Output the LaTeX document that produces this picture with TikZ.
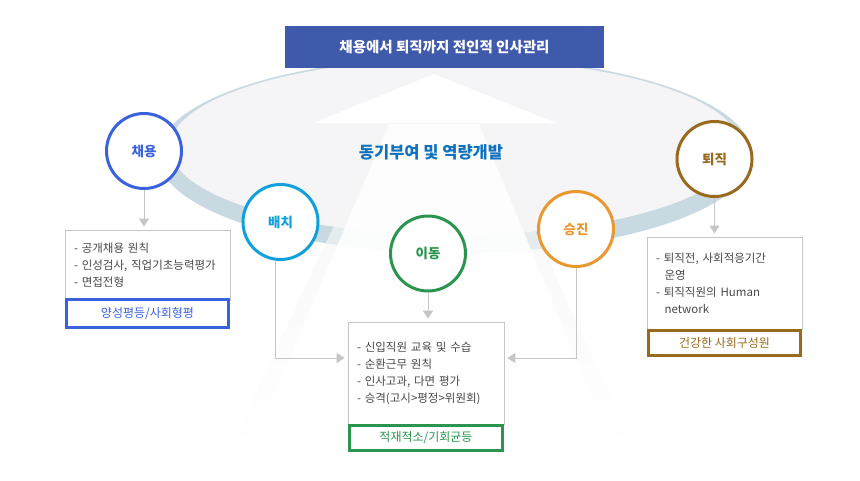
\documentclass[tikz,border=0pt]{standalone}
\usepackage{fontspec}
\setmainfont{Noto Sans CJK KR}
\usetikzlibrary{arrows.meta,fadings}
\definecolor{titleblue}{RGB}{63,90,170}
\definecolor{ringblue}{RGB}{201,217,225}
\definecolor{innergray}{RGB}{245,244,246}
\definecolor{motivblue}{RGB}{16,114,190}
\definecolor{hirecol}{RGB}{58,98,220}
\definecolor{placecol}{RGB}{18,160,219}
\definecolor{movecol}{RGB}{43,149,80}
\definecolor{promocol}{RGB}{233,152,48}
\definecolor{retirecol}{RGB}{153,106,30}
\definecolor{linegray}{RGB}{198,198,198}
\definecolor{textgray}{RGB}{72,72,72}
\begin{document}
\begin{tikzpicture}[x=1pt,y=-1pt,
  stage/.style={draw=#1,text=#1,circle,fill=white,line width=3pt,minimum size=75pt,inner sep=0pt,font=\fontsize{13.5}{16}\selectfont\bfseries},
  infobox/.style={draw=linegray,fill=white,line width=0.8pt,align=left,text=textgray,inner xsep=9pt,font=\fontsize{11.5}{17}\selectfont},
  tagbox/.style={draw=#1,text=#1,fill=white,line width=3pt,font=\fontsize{12}{15}\selectfont},
  conn/.style={draw=linegray,line width=1pt,shorten >=3pt,-{Triangle[width=10pt,length=8pt]}}]
\useasboundingbox (0,0) rectangle (860,480);

% ring and beam
\fill[ringblue] (455,155) ellipse [x radius=297pt,y radius=98pt];
\fill[innergray] (455,147) ellipse [x radius=285pt,y radius=88pt];
\fill[black!3.5,path fading=south] (382,124) -- (226,455) -- (638,455) -- (486,124) -- cycle;
\fill[white,opacity=.85] (389,124) -- (248,455) -- (616,455) -- (479,124) -- cycle;
\fill[white] (434,74) -- (556,123) -- (313,123) -- cycle;

\node[fill=titleblue,text=white,minimum width=319pt,minimum height=42pt,font=\fontsize{14.5}{17}\selectfont\bfseries] (title) at (444.5,47) {채용에서 퇴직까지 전인적 인사관리};
\node[text=motivblue,font=\fontsize{16.5}{19}\selectfont\bfseries] (motiv) at (431,152) {동기부여 및 역량개발};

% stages
\node[stage=hirecol] (hire) at (144,151) {채용};
\node[stage=placecol] (place) at (280.5,222) {배치};
\node[stage=movecol] (move) at (428,253.5) {이동};
\node[stage=promocol] (promo) at (576,229) {승진};
\node[stage=retirecol] (retire) at (714.5,159) {퇴직};

% boxes
\node[infobox,text width=147pt,minimum height=70pt] (hirebox) at (147.5,265) {- 공개채용 원칙\\- 인성검사, 직업기초능력평가\\- 면접전형};
\node[tagbox=hirecol,minimum width=162pt,minimum height=28pt] (hiretag) at (147.5,313.5) {양성평등/사회형평};
\node[infobox,text width=138pt,minimum height=102pt] (movebox) at (426,373) {- 신입직원 교육 및 수습\\- 순환근무 원칙\\- 인사고과, 다면 평가\\- 승격(고시>평정>위원회)};
\node[tagbox=movecol,minimum width=153pt,minimum height=25pt] (movetag) at (426,438) {적재적소/기회균등};
\node[infobox,text width=137pt,minimum height=92pt] (retirebox) at (724.5,283) {- 퇴직전, 사회적응기간\\\hspace*{0.75em}운영\\- 퇴직직원의 Human\\\hspace*{0.75em}network};
\node[tagbox=retirecol,minimum width=152pt,minimum height=25pt] (retiretag) at (724.5,343) {건강한 사회구성원};

% links
\coordinate (placebend) at (275.5,358);
\coordinate (promobend) at (576,358);
\draw[conn] (hire) -- (hire |- hirebox.north);
\draw[conn] (move) -- (move |- movebox.north);
\draw[conn] (retire) -- (retire |- retirebox.north);
\draw[conn] (place.south -| placebend) -- (placebend) -- (movebox.west |- placebend);
\draw[conn] (promo) -- (promobend) -- (movebox.east |- promobend);
\end{tikzpicture}
\end{document}
